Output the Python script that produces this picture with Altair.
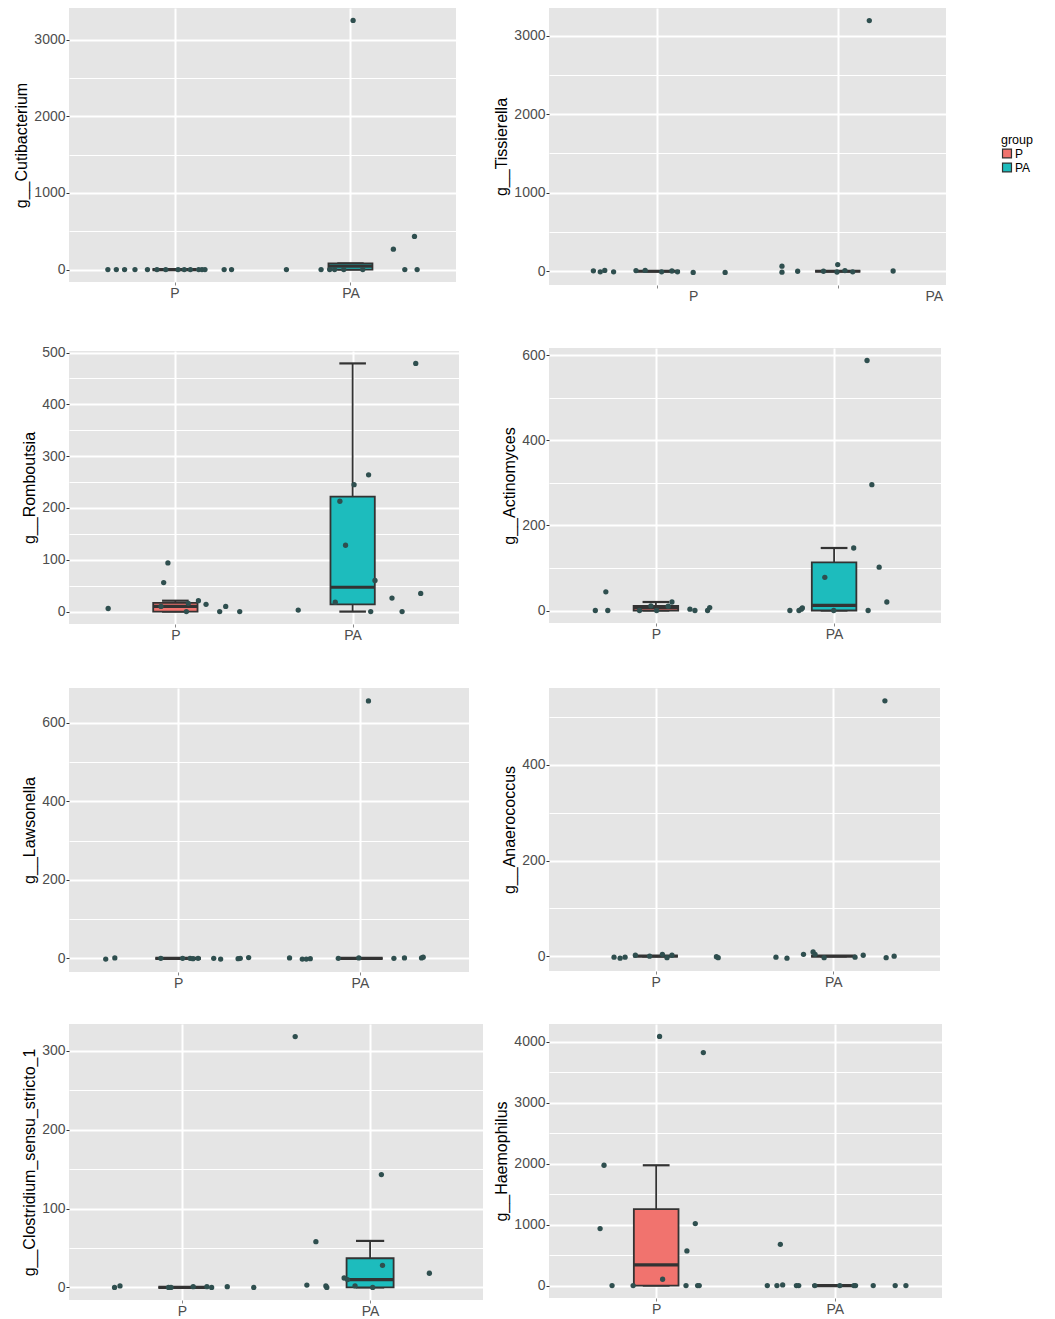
import altair as alt
import pandas as pd

FONT = "Liberation Sans"
GROUPS = ["P", "PA"]
GROUP_X = [1, 2]
FILL_COLORS = ["#F1736E", "#1DBCBD"]
POINT_COLOR = "#2F4F4F"
LINE_COLOR = "#333333"

# ---------------- data ----------------
# box stats: [lower whisker, q1, median, q3, upper whisker]
CUTI_P_VAL = [0, 0, 0, 0, 0, 0, 0, 0, 0, 0, 0, 0, 0, 0, 0]
CUTI_P_JIT = [-0.379, -0.331, -0.284, -0.225, -0.154, 0.055, 0.137, 0.156, 0.173, 0.282, 0.324, -0.10, -0.05, 0.02, 0.09]
CUTI_PA_VAL = [0, 0, 0, 0, 0, 3250, 0, 266, 0, 432, 0]
CUTI_PA_JIT = [-0.364, -0.167, -0.118, -0.090, -0.038, 0.015, 0.070, 0.244, 0.309, 0.364, 0.379]
CUTI_BOX_P = [0, 0, 0, 0, 0]
CUTI_BOX_PA = [0, 0, 45, 80, 80]
CUTI_TICKS = [0, 1000, 2000, 3000]

TISS_P_VAL = [5, -8, 10, -8, 8, 10, -8, 3, -8, -15, -15]
TISS_P_JIT = [-0.354, -0.316, -0.291, -0.242, -0.118, -0.067, 0.024, 0.081, 0.112, 0.199, 0.376]
TISS_PA_VAL = [64, -12, 0, 0, -10, 85, 8, -8, 3192, 3]
TISS_PA_JIT = [-0.309, -0.309, -0.222, -0.079, -0.004, 0.0, 0.040, 0.083, 0.175, 0.307]
TISS_BOX_P = [0, 0, 0, 0, 0]
TISS_BOX_PA = [0, 0, 0, 0, 0]
TISS_TICKS = [0, 1000, 2000, 3000]

ROMB_P_VAL = [6, 56, 94, 10, 0, 16, 21, 14, 0, 10, 0]
ROMB_P_JIT = [-0.379, -0.066, -0.042, -0.081, 0.062, 0.073, 0.130, 0.173, 0.250, 0.284, 0.363]
ROMB_PA_VAL = [3, 18, 213, 128, 245, 264, 0, 60, 26, 0, 479, 35]
ROMB_PA_JIT = [-0.307, -0.098, -0.072, -0.040, 0.008, 0.090, 0.102, 0.126, 0.222, 0.279, 0.356, 0.384]
ROMB_BOX_P = [0, 0, 10, 17, 21]
ROMB_BOX_PA = [0, 14, 47, 222, 479]
ROMB_TICKS = [0, 100, 200, 300, 400, 500]

ACTI_P_VAL = [0, 44, 0, 0, 11, 0, 10, 20, 3, 0, 0, 7]
ACTI_P_JIT = [-0.340, -0.281, -0.270, -0.092, -0.028, 0.004, 0.069, 0.090, 0.191, 0.219, 0.290, 0.302]
ACTI_PA_VAL = [0, 0, 3, 6, 78, 0, 147, 588, 0, 296, 102, 20]
ACTI_PA_JIT = [-0.248, -0.197, -0.184, -0.178, -0.052, -0.002, 0.110, 0.185, 0.191, 0.212, 0.253, 0.296]
ACTI_BOX_P = [0, 0, 7, 11, 20]
ACTI_BOX_PA = [0, 0, 12, 113, 147]
ACTI_TICKS = [0, 200, 400, 600]

LAWS_P_VAL = [-2, 1, 0, 0, 0, -1, 0, 0, -2, -1, 0, 2]
LAWS_P_JIT = [-0.398, -0.348, -0.095, 0.025, 0.066, 0.082, 0.110, 0.196, 0.234, 0.330, 0.342, 0.388]
LAWS_PA_VAL = [1, -2, -2, -1, 0, 1, 656, 0, 1, 1, 3]
LAWS_PA_JIT = [-0.387, -0.317, -0.295, -0.273, -0.119, -0.006, 0.047, 0.187, 0.245, 0.339, 0.348]
LAWS_BOX_P = [0, 0, 0, 0, 0]
LAWS_BOX_PA = [0, 0, 0, 0, 0]
LAWS_TICKS = [0, 200, 400, 600]

ANAE_P_VAL = [-2, -4, -2, 2, 0, 4, -3, 2, -1, -3]
ANAE_P_JIT = [-0.234, -0.200, -0.172, -0.114, -0.034, 0.038, 0.064, 0.092, 0.342, 0.352]
ANAE_PA_VAL = [-2, -4, 4, 9, 4, -3, -2, 2, 534, -3, 0]
ANAE_PA_JIT = [-0.323, -0.261, -0.168, -0.114, -0.103, -0.052, 0.122, 0.168, 0.290, 0.297, 0.342]
ANAE_BOX_P = [0, 0, 0, 0, 0]
ANAE_BOX_PA = [0, 0, 0, 0, 0]
ANAE_TICKS = [0, 200, 400]

CLOS_P_VAL = [0, 2, 0, 0, 1, 1, 0, 1, 0]
CLOS_P_JIT = [-0.358, -0.329, -0.071, -0.058, 0.060, 0.133, 0.158, 0.241, 0.382]
CLOS_PA_VAL = [318, 3, 58, 2, 0, 12, 10, 2, 0, 143, 28, 18]
CLOS_PA_JIT = [-0.398, -0.336, -0.288, -0.235, -0.230, -0.138, -0.120, -0.080, 0.014, 0.060, 0.066, 0.315]
CLOS_BOX_P = [0, 0, 0, 0, 0]
CLOS_BOX_PA = [0, 0, 10, 37, 59]
CLOS_TICKS = [0, 100, 200, 300]

HAEM_P_VAL = [935, 1973, 0, 0, 4086, 103, 0, 568, 1016, 0, 0, 3822]
HAEM_P_JIT = [-0.314, -0.292, -0.247, -0.129, 0.019, 0.036, 0.167, 0.172, 0.219, 0.232, 0.241, 0.264]
HAEM_PA_VAL = [0, 0, 676, 10, 0, 0, 0, 0, 0, 0, 0, 0, 0]
HAEM_PA_JIT = [-0.378, -0.324, -0.305, -0.292, -0.215, -0.202, -0.112, 0.028, 0.107, 0.116, 0.215, 0.338, 0.398]
HAEM_BOX_P = [0, 0, 340, 1254, 1973]
HAEM_BOX_PA = [0, 0, 0, 0, 0]
HAEM_TICKS = [0, 1000, 2000, 3000, 4000]

BOX_HALF = 0.125
CAP_HALF = 0.075


def make_panel(title, p_val, p_jit, pa_val, pa_jit, box_p, box_pa, majors,
               width, height, x_extent, legend=None, label_shift=None):
    pts = pd.DataFrame({
        "group": [GROUPS[0]] * len(p_val) + [GROUPS[1]] * len(pa_val),
        "gx": [GROUP_X[0]] * len(p_val) + [GROUP_X[1]] * len(pa_val),
        "value": p_val + pa_val,
        "jitter": p_jit + pa_jit,
    })
    rows = []
    for g, gx, b in zip(GROUPS, GROUP_X, [box_p, box_pa]):
        rows.append(dict(group=g, gx=gx, lo=b[0], q1=b[1], med=b[2], q3=b[3], hi=b[4]))
    stats = pd.DataFrame(rows)

    vals = p_val + pa_val + box_p + box_pa
    vmin, vmax = min(vals), max(vals)
    span = vmax - vmin
    dom = [vmin - 0.05 * span, vmax + 0.05 * span]
    step = majors[1] - majors[0]
    minors = [m + step / 2 for m in [majors[0] - step] + majors]
    minors = [m for m in minors if dom[0] <= m <= dom[1]]
    ticks = sorted(majors + minors)
    major_js = "[" + ",".join(str(m) for m in majors) + "]"
    is_major = f"indexof({major_js}, datum.value) >= 0"

    yscale = alt.Scale(domain=dom, nice=False, zero=False)
    yaxis = alt.Axis(
        values=ticks, format="d",
        labelExpr=f"{is_major} ? datum.label : ''",
        gridWidth={"condition": {"test": is_major, "value": 2}, "value": 1},
        tickColor={"condition": {"test": is_major, "value": LINE_COLOR}, "value": "transparent"},
    )
    xscale = alt.Scale(domain=[0.4, 2.6], nice=False, zero=False)
    xaxis_kw = dict(
        values=GROUP_X,
        labelExpr=f"datum.value == {GROUP_X[0]} ? '{GROUPS[0]}' : '{GROUPS[1]}'",
        gridWidth=2, minExtent=x_extent, maxExtent=x_extent,
    )
    if label_shift is not None:
        xaxis_kw["labelOffset"] = {
            "condition": {"test": f"datum.value == {GROUP_X[0]}", "value": label_shift[0]},
            "value": label_shift[1],
        }
    xaxis = alt.Axis(**xaxis_kw)

    def X(f):
        return alt.X(f, type="quantitative", scale=xscale, axis=xaxis, title=None)

    def Y(f):
        return alt.Y(f, type="quantitative", scale=yscale, axis=yaxis, title=title)

    base = alt.Chart(stats).transform_calculate(
        xl=f"datum.gx - {BOX_HALF}", xr=f"datum.gx + {BOX_HALF}",
        cl=f"datum.gx - {CAP_HALF}", cr=f"datum.gx + {CAP_HALF}",
    )
    whisker = base.mark_rule(color=LINE_COLOR, strokeWidth=1.8).encode(
        x=X("gx"), y=Y("lo"), y2="hi")
    cap_hi = base.mark_rule(color=LINE_COLOR, strokeWidth=2.2).encode(
        x=X("cl"), x2="cr", y=Y("hi"))
    cap_lo = base.mark_rule(color=LINE_COLOR, strokeWidth=2.2).encode(
        x=X("cl"), x2="cr", y=Y("lo"))
    box = base.mark_bar(stroke=LINE_COLOR, strokeWidth=1.8).encode(
        x=X("xl"), x2="xr", y=Y("q1"), y2="q3",
        fill=alt.Fill("group:N", scale=alt.Scale(domain=GROUPS, range=FILL_COLORS),
                      legend=legend),
    )
    median = base.mark_rule(color=LINE_COLOR, strokeWidth=3.2).encode(
        x=X("xl"), x2="xr", y=Y("med"))
    points = alt.Chart(pts).transform_calculate(
        xj="datum.gx + datum.jitter"
    ).mark_circle(color=POINT_COLOR, size=28, opacity=1).encode(
        x=X("xj"), y=Y("value"))

    return alt.layer(whisker, cap_hi, cap_lo, box, median, points).properties(
        width=width, height=height)


legend = alt.Legend(
    title="group", orient="none", legendX=452, legendY=126,
    titleFontSize=12.5, titleFontWeight="normal", labelFontSize=12,
    symbolType="square", symbolSize=80, symbolStrokeColor=LINE_COLOR,
    symbolStrokeWidth=1.2, rowPadding=0, titlePadding=1, labelOffset=2,
)

p1 = make_panel("g__Cutibacterium", CUTI_P_VAL, CUTI_P_JIT, CUTI_PA_VAL, CUTI_PA_JIT,
                CUTI_BOX_P, CUTI_BOX_PA, CUTI_TICKS, 387, 274, 43)
p3 = make_panel("g__Romboutsia", ROMB_P_VAL, ROMB_P_JIT, ROMB_PA_VAL, ROMB_PA_JIT,
                ROMB_BOX_P, ROMB_BOX_PA, ROMB_TICKS, 390, 273, 44)
p5 = make_panel("g__Lawsonella", LAWS_P_VAL, LAWS_P_JIT, LAWS_PA_VAL, LAWS_PA_JIT,
                LAWS_BOX_P, LAWS_BOX_PA, LAWS_TICKS, 400, 284, 32)
p7 = make_panel("g__Clostridium_sensu_stricto_1", CLOS_P_VAL, CLOS_P_JIT, CLOS_PA_VAL, CLOS_PA_JIT,
                CLOS_BOX_P, CLOS_BOX_PA, CLOS_TICKS, 414, 276, 18)

p2 = make_panel("g__Tissierella", TISS_P_VAL, TISS_P_JIT, TISS_PA_VAL, TISS_PA_JIT,
                TISS_BOX_P, TISS_BOX_PA, TISS_TICKS, 397, 277, 43, legend=legend,
                label_shift=[36, 96])
p4 = make_panel("g__Actinomyces", ACTI_P_VAL, ACTI_P_JIT, ACTI_PA_VAL, ACTI_PA_JIT,
                ACTI_BOX_P, ACTI_BOX_PA, ACTI_TICKS, 392, 275, 45)
p6 = make_panel("g__Anaerococcus", ANAE_P_VAL, ANAE_P_JIT, ANAE_PA_VAL, ANAE_PA_JIT,
                ANAE_BOX_P, ANAE_BOX_PA, ANAE_TICKS, 391, 283, 33)
p8 = make_panel("g__Haemophilus", HAEM_P_VAL, HAEM_P_JIT, HAEM_PA_VAL, HAEM_PA_JIT,
                HAEM_BOX_P, HAEM_BOX_PA, HAEM_TICKS, 393, 274, 18)

left = alt.vconcat(p1, p3, p5, p7, spacing=20).resolve_scale(
    fill="independent").resolve_legend(fill="independent")
right = alt.vconcat(p2, p4, p6, p8, spacing=20).resolve_scale(
    fill="independent").resolve_legend(fill="independent")

chart = alt.hconcat(left, right, spacing=10).resolve_scale(
    fill="independent"
).resolve_legend(
    fill="independent"
).properties(
    padding={"left": 5, "top": 0, "right": 0, "bottom": 0},
    background="white",
).configure_view(
    fill="#E5E5E5", stroke=None
).configure_axis(
    domain=False, labelFont=FONT, titleFont=FONT, labelFontSize=14, titleFontSize=16,
    labelColor="#4D4D4D", titleColor="black", titleFontWeight="normal",
    tickSize=3, tickWidth=1, gridColor="white", labelPadding=1, titlePadding=4,
).configure_legend(
    labelFont=FONT, titleFont=FONT, labelColor="black", titleColor="black",
)

chart.save("out.html", embed_options={"renderer": "svg", "actions": False})
